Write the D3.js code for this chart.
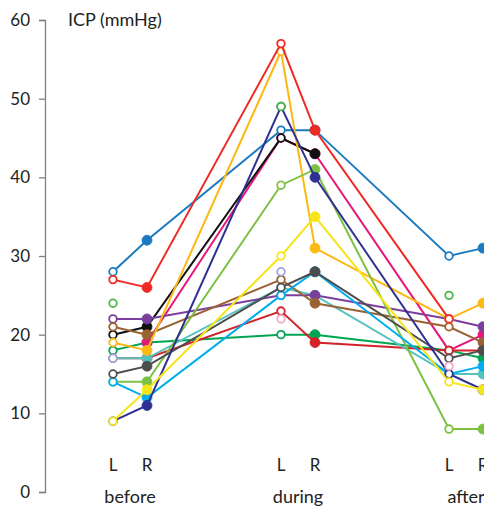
<!DOCTYPE html>
<html>
<head>
<meta charset="utf-8">
<script src="https://cdn.jsdelivr.net/npm/d3@7"></script>
<style>
  body { margin: 0; background: #fff; }
  svg text { font-family: Lato, "Open Sans", sans-serif; fill: #222; }
</style>
</head>
<body>
<div id="chart"></div>
<script>
// phases and sides, in the order the points are joined
const phases = ['before', 'during', 'after'];
const sides = ['L', 'R'];
const yTicks = [0, 10, 20, 30, 40, 50, 60];

// ICP per patient: before L, before R, during L, during R, after L, after R
const pBlue      = [28, 32, 46, 46, 30, 31];
const pBlack     = [20, 21, 45, 43, null, null];
const pGold      = [19, 18, 56, 31, 22, 24];
const pRed       = [27, 26, 57, 46, 22, null];
const pDarkRed   = [17, 17, 23, 19, 18, 18];
const pGreen     = [18, 19, 20, 20, 18, 17];
const pBrown     = [21, 20, 27, 24, 21, 19];
const pPurple    = [22, 22, 25, 25, 22, 21];
const pTeal      = [17, 17, 26, 25, 15, 15];
const pGray      = [15, 16, 26, 28, 17, 18];
const pCyan      = [14, 12, 25, 28, 15, 16];
const pYellow    = [9, 13, 30, 35, 14, 13];
const pLightGrn  = [14, 14, 39, 41, 8, 8];
const pNavy      = [9, 11, 49, 40, 15, 13];
const pMagenta   = [null, 19, 45, 43, 18, 20];
const pGreenL    = [24, null, 49, null, 25, null];
const pLavender  = [17, null, 28, null, null, null];
const pPink      = [null, null, 22, null, 16, null];

// drawing order, last on top
const patients = [pBlue, pGreen, pMagenta, pBlack, pDarkRed, pTeal, pPurple, pBrown, pGold,
  pLightGrn, pCyan, pGray, pNavy, pYellow, pGreenL, pLavender, pPink, pRed];
const colors = ['#1b7bc0', '#00a551', '#e6177a', '#111111', '#d3222a', '#55c2c0', '#7b3f9d', '#9a6232', '#fdb913',
  '#7dc142', '#00aeef', '#4d4d4d', '#2e3192', '#f7e51b', '#4cb848', '#a3a3dc', '#f2a8cc', '#ee2a24'];

const width = 484, height = 506;
const svg = d3.select('#chart').append('svg').attr('width', width).attr('height', height);

const y = d3.scaleLinear().domain([0, 60]).range([492, 20]);
const xPhase = d3.scaleLinear().domain([0, 2]).range([130, 466]);
const xSide = d3.scaleOrdinal().domain(sides).range([-17, 17]);
function xPos(i) {
  return xPhase(Math.floor(i / 2)) + xSide(sides[i % 2]);
}

// y axis, ticks on the left
const axis = svg.append('g').attr('transform', 'translate(45,0)')
  .call(d3.axisLeft(y).tickValues(yTicks).tickSize(6).tickPadding(9));
axis.select('.domain').attr('stroke', '#7f7f7f').attr('stroke-width', 1.3);
axis.selectAll('.tick line').attr('stroke', '#7f7f7f').attr('stroke-width', 1.3);
axis.selectAll('.tick text').style('font-size', '17px').attr('fill', '#222');

svg.append('text').attr('x', 68).attr('y', 26).style('font-size', '18px').text('ICP (mmHg)');

// lines and points per patient
const line = d3.line()
  .defined(d => d.v !== null)
  .x(d => xPos(d.i))
  .y(d => y(d.v));

patients.forEach(function(vals, k) {
  const pts = vals.map((v, i) => ({v: v, i: i}));
  const g = svg.append('g');
  g.append('path').datum(pts).attr('d', line)
    .attr('fill', 'none').attr('stroke', colors[k]).attr('stroke-width', 2);
  g.selectAll('circle').data(pts.filter(d => d.v !== null)).enter().append('circle')
    .attr('cx', d => xPos(d.i))
    .attr('cy', d => y(d.v))
    .attr('r', d => d.i % 2 === 0 ? 3.8 : 5)
    .attr('fill', d => d.i % 2 === 0 ? '#fff' : colors[k])
    .attr('stroke', colors[k])
    .attr('stroke-width', d => d.i % 2 === 0 ? 1.8 : 0.8);
});

// L / R labels and phase names
phases.forEach(function(p, pi) {
  sides.forEach(function(s) {
    svg.append('text').attr('x', xPhase(pi) + xSide(s)).attr('y', 471)
      .attr('text-anchor', 'middle').style('font-size', '17px').text(s);
  });
  svg.append('text').attr('x', xPhase(pi)).attr('y', 503)
    .attr('text-anchor', 'middle').style('font-size', '18px').text(p);
});
</script>
</body>
</html>
